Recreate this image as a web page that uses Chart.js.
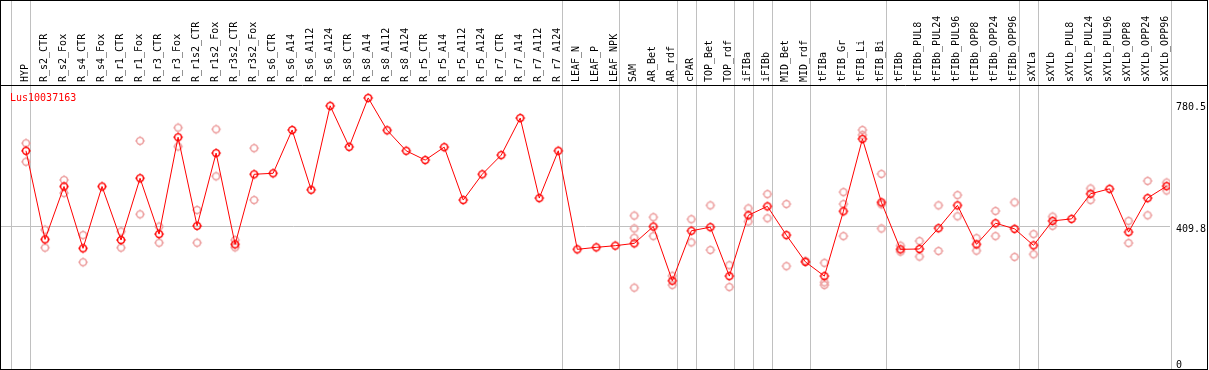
<!DOCTYPE html>
<html>
<head>
<meta charset="utf-8">
<script src="https://cdn.jsdelivr.net/npm/chart.js@4.4.1/dist/chart.umd.min.js"></script>
<style>
  html, body { margin: 0; padding: 0; background: #fff; }
  #frame { width: 1208px; height: 370px; border: 1px solid #000; box-sizing: border-box; }
  canvas { display: block; }
</style>
</head>
<body>
<div id="frame"><canvas id="geneChart" width="1206" height="368"></canvas></div>
<script>
const geneName = 'Lus10037163';

const categories = [
    'HYP', 'R_s2_CTR', 'R_s2_Fox', 'R_s4_CTR', 'R_s4_Fox', 'R_r1_CTR', 'R_r1_Fox', 'R_r3_CTR', 'R_r3_Fox',
    'R_r1s2_CTR', 'R_r1s2_Fox', 'R_r3s2_CTR', 'R_r3s2_Fox', 'R_s6_CTR', 'R_s6_A14', 'R_s6_A112', 'R_s6_A124',
    'R_s8_CTR', 'R_s8_A14', 'R_s8_A112', 'R_s8_A124', 'R_r5_CTR', 'R_r5_A14', 'R_r5_A112', 'R_r5_A124',
    'R_r7_CTR', 'R_r7_A14', 'R_r7_A112', 'R_r7_A124', 'LEAF_N', 'LEAF_P', 'LEAF_NPK', 'SAM', 'AR_Bet', 'AR_rdf',
    'cPAR', 'TOP_Bet', 'TOP_rdf', 'iFIBa', 'iFIBb', 'MID_Bet', 'MID_rdf', 'tFIBa', 'tFIB_Gr', 'tFIB_Li', 'tFIB_Bi',
    'tFIBb', 'tFIBb_PUL8', 'tFIBb_PUL24', 'tFIBb_PUL96', 'tFIBb_OPP8', 'tFIBb_OPP24', 'tFIBb_OPP96',
    'sXYLa', 'sXYLb', 'sXYLb_PUL8', 'sXYLb_PUL24', 'sXYLb_PUL96', 'sXYLb_OPP8', 'sXYLb_OPP24', 'sXYLb_OPP96'
];

// mean expression per sample
const means = [
    640, 372, 532, 345, 532, 370, 557, 388, 681, 413, 633, 357, 569,
    572, 703, 522, 776, 652, 800, 702, 640, 612, 651, 491, 569, 627, 739, 497, 640,
    342, 348, 353, 360, 411, 247, 398, 409, 261, 445, 472, 385, 304, 261, 457, 676, 484,
    342, 343, 406, 475, 357, 421, 404, 354, 428, 434, 510, 525, 394, 497, 533
];

// individual replicates (null = none)
const repA = [
    663, 401, 552, 385, null, 396, 670, 411, 710, 461, 705, 370, 648,
    null, null, null, null, null, null, null, null, null, null, null, null, null, null, null, null,
    null, null, null, 444, 439, 262, 433, 475, 294, 466, 509, 479, 307, 301, 515, 703, 570,
    353, 367, 475, 506, 376, 458, 484, 388, 441, null, 526, null, 428, 549, 544
];
const repB = [
    607, 347, 512, 303, null, 347, 448, 362, 653, 362, 563, 348, 491,
    null, null, null, null, null, null, null, null, null, null, null, null, null, null, null, null,
    null, null, null, 405, 382, 234, 363, 340, 228, 426, 436, 291, null, 242, 479, 688, 478,
    335, 320, 337, 442, 338, 382, 319, 327, 413, null, 491, null, 361, 445, 520
];
const repC = [
    null, null, null, null, null, null, null, null, null, null, null, null, null,
    null, null, null, null, null, null, null, null, null, null, null, null, null, null, null, null,
    null, null, null, 377, null, null, null, null, null, null, null, null, null, 234, 382, null, 405,
    null, null, null, null, null, null, null, null, null, null, null, null, null, null, null
];
const repD = [
    null, null, null, null, null, null, null, null, null, null, null, null, null,
    null, null, null, null, null, null, null, null, null, null, null, null, null, null, null, null,
    null, null, null, 226, null, null, null, null, null, null, null, null, null, null, null, null, null,
    null, null, null, null, null, null, null, null, null, null, null, null, null, null, null
];

const yTicks = [0, 409.8, 780.5];
// sample index after which a group separator is drawn
const groupEnds = [-1, 0, 28, 31, 34, 35, 37, 38, 39, 41, 45, 52, 53, 60];

const FONT = 'DejaVu Sans Mono';
Chart.defaults.font.family = FONT;
Chart.defaults.font.size = 10;
Chart.defaults.color = '#000';

// circle with four small ticks
function makeMarker(color) {
    const c = document.createElement('canvas');
    c.width = 12;
    c.height = 12;
    const g = c.getContext('2d');
    g.strokeStyle = color;
    g.lineWidth = 1.4;
    g.beginPath();
    g.arc(6, 6, 3.4, 0, Math.PI * 2);
    g.stroke();
    g.lineWidth = 1;
    g.beginPath();
    g.moveTo(6, 1); g.lineTo(6, 2);
    g.moveTo(6, 10); g.lineTo(6, 11);
    g.moveTo(1, 6); g.lineTo(2, 6);
    g.moveTo(10, 6); g.lineTo(11, 6);
    g.stroke();
    return c;
}

const meanMarker = makeMarker('#ff0000');
const repMarker = makeMarker('#ec9c9c');

function toPoints(values) {
    return values.map((v, i) => ({ x: i, y: v }));
}

function repSet(values) {
    return {
        label: 'rep',
        data: toPoints(values),
        showLine: false,
        pointStyle: repMarker,
        pointRadius: 5
    };
}

const framePlugin = {
    id: 'frame',
    beforeDatasetsDraw(chart) {
        const { ctx, chartArea, scales } = chart;
        ctx.save();
        ctx.lineWidth = 1;
        ctx.strokeStyle = '#c0c0c0';
        groupEnds.forEach(i => {
            const x = Math.round(scales.x.getPixelForValue(i + 0.22)) + 0.5;
            ctx.beginPath();
            ctx.moveTo(x, 0);
            ctx.lineTo(x, chart.height);
            ctx.stroke();
        });
        ctx.strokeStyle = '#000';
        const y = Math.round(chartArea.top) + 0.5;
        ctx.beginPath();
        ctx.moveTo(0, y);
        ctx.lineTo(chart.width, y);
        ctx.stroke();
        ctx.restore();
    },
    afterDraw(chart) {
        const { ctx, chartArea } = chart;
        ctx.save();
        ctx.font = '10px ' + FONT;
        ctx.fillStyle = '#ff0000';
        ctx.textBaseline = 'alphabetic';
        ctx.fillText(chart.data.datasets[0].label, chartArea.left + 9, chartArea.top + 15.5);
        ctx.restore();
    }
};

new Chart(document.getElementById('geneChart'), {
    type: 'scatter',
    data: {
        datasets: [
            {
                label: geneName,
                data: toPoints(means),
                showLine: true,
                borderColor: '#ff0000',
                borderWidth: 1,
                tension: 0,
                pointStyle: meanMarker,
                pointRadius: 5
            },
            repSet(repA),
            repSet(repB),
            repSet(repC),
            repSet(repD)
        ]
    },
    options: {
        responsive: false,
        animation: false,
        events: [],
        layout: { padding: 0, autoPadding: false },
        plugins: {
            legend: { display: false },
            tooltip: { enabled: false }
        },
        scales: {
            x: {
                type: 'linear',
                position: 'top',
                min: -1.315,
                max: 60.18,
                afterBuildTicks: s => { s.ticks = categories.map((c, i) => ({ value: i })); },
                afterFit: s => {
                    s.height = 84;
                    s.paddingLeft = 0;
                    s.paddingRight = 0;
                },
                grid: { display: false, drawTicks: false },
                border: { display: false },
                ticks: {
                    autoSkip: false,
                    minRotation: 90,
                    maxRotation: 90,
                    padding: 3,
                    labelOffset: 11,
                    callback: v => categories[v]
                }
            },
            y: {
                type: 'linear',
                position: 'right',
                min: -20,
                max: 839,
                afterBuildTicks: s => { s.ticks = yTicks.map(v => ({ value: v })); },
                afterFit: s => {
                    s.width = 37;
                    s.paddingTop = 0;
                    s.paddingBottom = 0;
                },
                grid: {
                    drawTicks: false,
                    color: c => (c.tick && c.tick.value === 409.8) ? '#c0c0c0' : 'rgba(0,0,0,0)'
                },
                border: { display: false },
                ticks: {
                    align: 'start',
                    padding: 6,
                    labelOffset: -2,
                    callback: v => String(v)
                }
            }
        }
    },
    plugins: [framePlugin]
});
</script>
</body>
</html>
